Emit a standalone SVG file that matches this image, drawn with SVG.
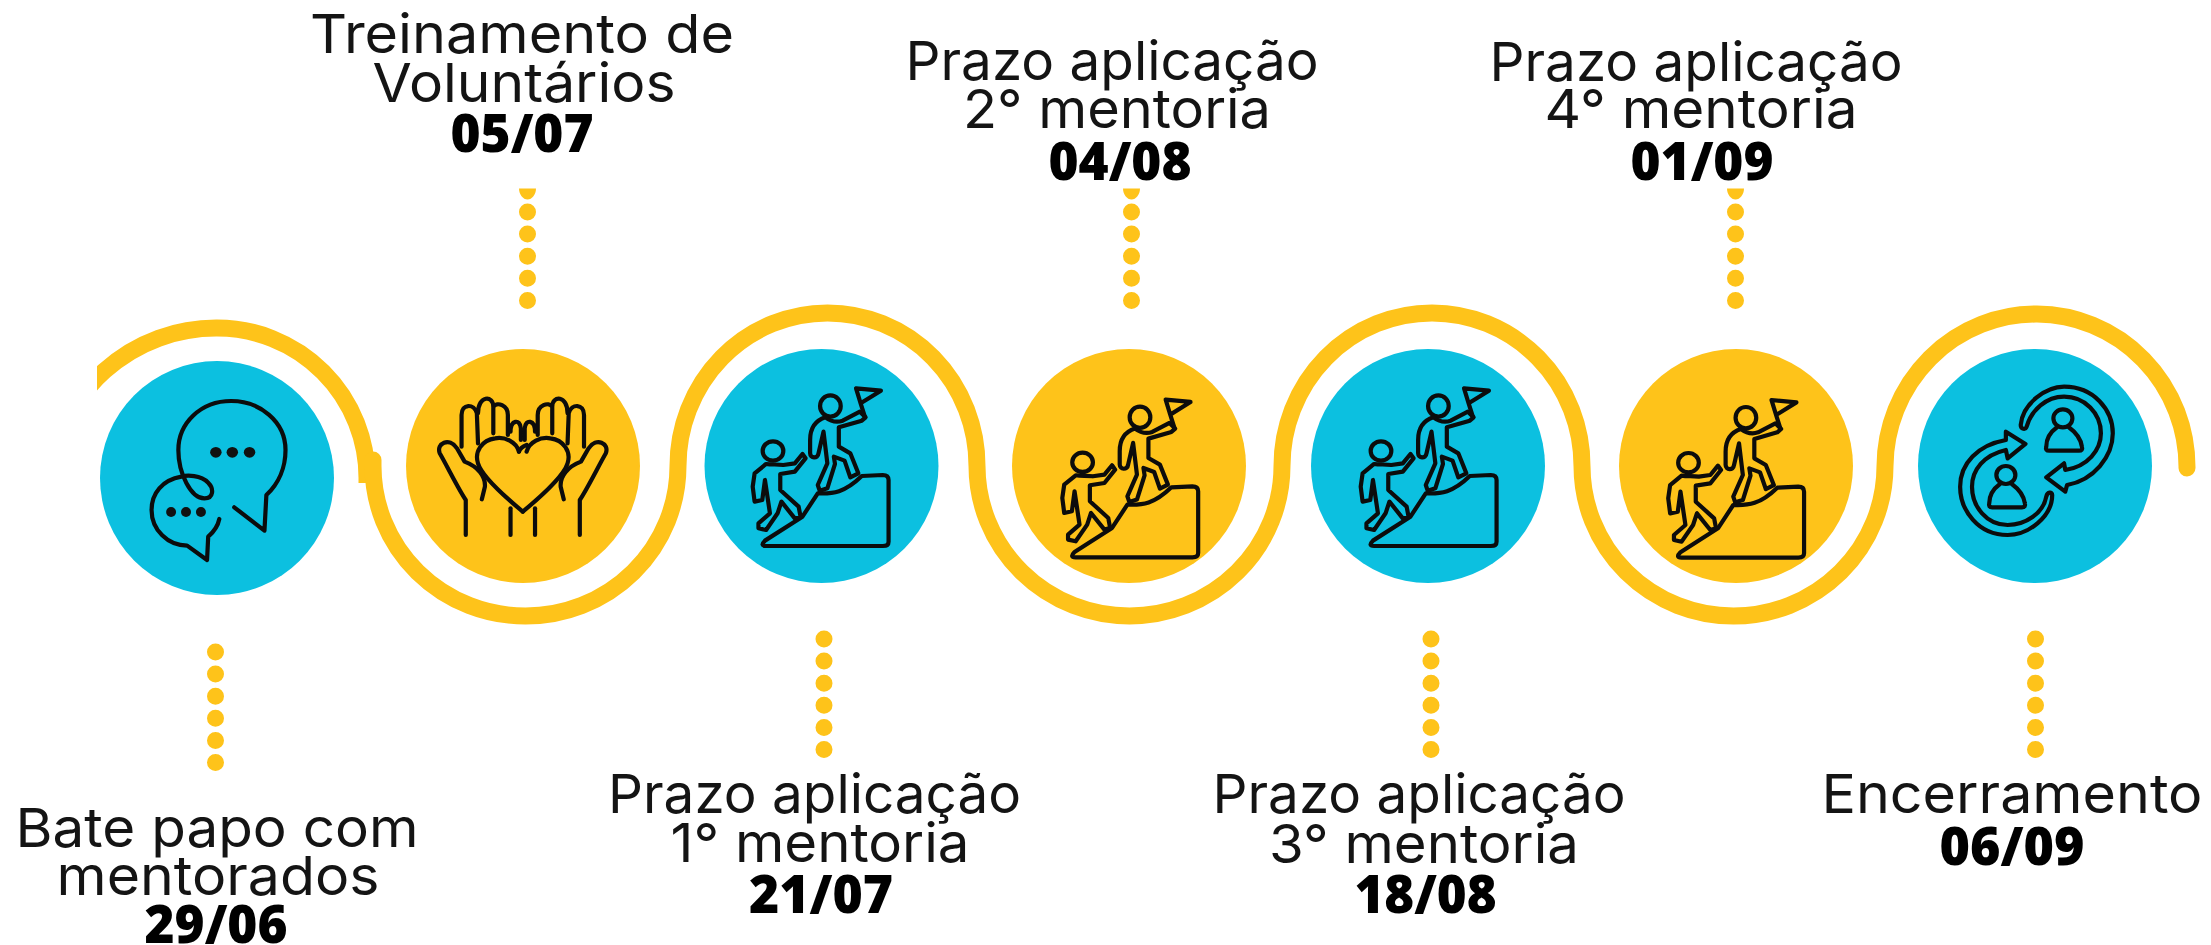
<svg xmlns="http://www.w3.org/2000/svg" width="2211" height="945" viewBox="0 0 2211 945">
<style>
.t{font-family:Inter,"Liberation Sans",sans-serif;font-size:54px;fill:#141414;text-anchor:middle}
.d{font-family:"Open Sans","Liberation Sans",sans-serif;font-weight:800;font-size:53px;fill:#000;text-anchor:middle}
.c{fill:#0cc0e0}.y{fill:#fec31a}
.w{fill:none;stroke:#fec31a;stroke-width:17}
.dots{fill:none;stroke:#fec31a;stroke-width:17;stroke-linecap:round;stroke-dasharray:0 22.1}
.i,.i *{fill:none;stroke:#0c0c0c;stroke-width:4.2;stroke-linecap:round;stroke-linejoin:round;vector-effect:non-scaling-stroke}
.i .f{fill:#111;stroke:none}
</style>
<defs>
<clipPath id="cut"><rect x="97" y="0" width="300" height="500"/></clipPath>
<g id="climb" class="i">
<path d="M222,722L320,650L360,580C400,582 430,578 475,528L530,525Q545,525 545,540L545,725Q545,738 530,738L225,738Q208,738 222,722Z"/>
<ellipse cx="393" cy="318" rx="27" ry="32"/>
<ellipse cx="243" cy="453" rx="27" ry="29"/>
<path d="M380,352C395,365 410,368 425,362L470,335L485,352L475,362L415,382L415,440L445,460L466,520L445,532L430,482L402,470L405,492L385,565L365,572L360,555L385,490L375,395L362,460C360,478 340,475 340,460L340,420C340,400 345,365 380,352Z"/>
<path d="M225,492C240,495 255,492 270,495L300,490L320,462L328,475L300,515L262,522L262,570L310,620L315,650L300,655L265,605L255,640L225,690L205,685L205,670L235,640L222,540L215,600L195,605L190,560L195,520Z"/>
<path d="M483,350L472,310L460,265L525,272L472,310"/>
</g>
<g id="hand" class="i">
<path d="M1008,705L1008,600C990,570 960,500 940,460C930,430 965,410 985,445L1005,485C1040,500 1060,530 1058,560L1050,598"/>
<path d="M997,440L997,345C997,310 1030,310 1037,340L1040,430M1040,340C1040,285 1080,285 1080,320L1080,400M1080,320C1090,305 1118,315 1118,345L1118,405M1125,395C1125,360 1150,355 1152,385L1152,420"/>
<path d="M1147,455C1140,425 1110,410 1085,415C1050,420 1030,455 1040,490C1050,530 1110,590 1157,635"/>
<path d="M1125,625L1125,705"/>
</g>
<g id="person" class="i">
<ellipse cx="1318" cy="385" rx="16" ry="27"/>
<path d="M1308,412C1298,425 1290,445 1290,470Q1288,482 1295,482L1345,482Q1352,482 1350,470C1348,445 1338,425 1328,412"/>
</g>
</defs>
<rect width="2211" height="945" fill="#fff"/>
<g id="connectors">
<path class="w" clip-path="url(#cut)" d="M50,478A167,167 0 0 1 217,328A150,150 0 0 1 367,478L367,483"/>
<path class="w" stroke-linecap="round" d="M373,460L373,466A152.500,150 0 0 0 678,466A149.500,153 0 0 1 977,466A152.500,150 0 0 0 1282,466A150,153 0 0 1 1582,466A151.500,150 0 0 0 1885,466A151,153 0 0 1 2187,468"/>
<line class="dots" x1="215.500" y1="652" x2="215.500" y2="763"/>
<line class="dots" x1="824" y1="639" x2="824" y2="750"/>
<line class="dots" x1="1431" y1="639" x2="1431" y2="750"/>
<line class="dots" x1="2035.500" y1="639" x2="2035.500" y2="750"/>
<line class="dots" x1="527.500" y1="212" x2="527.500" y2="302"/>
<line class="dots" x1="1131.500" y1="212" x2="1131.500" y2="302"/>
<line class="dots" x1="1735.500" y1="212" x2="1735.500" y2="302"/>
<path class="y" d="M519,188.500h17c0,6 -4,11 -8.500,11s-8.500,-5 -8.500,-11Z"/>
<path class="y" d="M1123,188.500h17c0,6 -4,11 -8.500,11s-8.500,-5 -8.500,-11Z"/>
<path class="y" d="M1727,188.500h17c0,6 -4,11 -8.500,11s-8.500,-5 -8.500,-11Z"/>
</g>
<g id="node-1">
<circle class="c" cx="217" cy="478" r="117"/>
<g class="i" transform="translate(80,300) scale(.3827,.3333)">
<path d="M403,622L482,692L487,585C520,550 537,500 537,450C537,365 470,303 395,303C315,303 257,370 257,450C257,520 290,595 325,595C350,595 350,565 335,548C315,525 280,525 265,530C215,540 187,580 187,630C187,690 230,737 280,737L332,780L335,710C350,695 360,680 364,657"/>
<ellipse class="f" cx="355" cy="457" rx="15" ry="16"/><ellipse class="f" cx="398" cy="457" rx="15" ry="16"/><ellipse class="f" cx="443" cy="457" rx="15" ry="16"/>
<ellipse class="f" cx="238" cy="636" rx="13" ry="15"/><ellipse class="f" cx="277" cy="636" rx="13" ry="15"/><ellipse class="f" cx="316" cy="636" rx="13" ry="15"/>
</g>
<text class="t" x="217" y="847" textLength="403" lengthAdjust="spacingAndGlyphs">Bate papo com</text>
<text class="t" x="218" y="895" textLength="323" lengthAdjust="spacingAndGlyphs">mentorados</text>
<text class="d" x="216" y="943" textLength="143" lengthAdjust="spacingAndGlyphs">29/06</text>
</g>
<g id="node-2">
<circle class="y" cx="523" cy="466" r="117"/>
<g class="i" transform="translate(80,300) scale(.3827,.3333)">
<use href="#hand"/>
<use href="#hand" transform="translate(2314,0) scale(-1,1)"/>
<path d="M1147,455C1150,445 1155,440 1167,435"/>
</g>
<text class="t" x="522" y="53" textLength="424" lengthAdjust="spacingAndGlyphs">Treinamento de</text>
<text class="t" x="524" y="102" textLength="303" lengthAdjust="spacingAndGlyphs">Voluntários</text>
<text class="d" x="522" y="152" textLength="143" lengthAdjust="spacingAndGlyphs">05/07</text>
</g>
<g id="node-3">
<circle class="c" cx="821.500" cy="466" r="117"/>
<use href="#climb" transform="translate(680,300) scale(.3827,.3333)"/>
<text class="t" x="814.500" y="813" textLength="413" lengthAdjust="spacingAndGlyphs">Prazo aplicação</text>
<text class="t" x="820" y="862" textLength="299" lengthAdjust="spacingAndGlyphs">1° mentoria</text>
<text class="d" x="821" y="913" textLength="144" lengthAdjust="spacingAndGlyphs">21/07</text>
</g>
<g id="node-4">
<circle class="y" cx="1129" cy="466" r="117"/>
<use href="#climb" transform="translate(989.600,311.300) scale(.3827,.3333)"/>
<text class="t" x="1112" y="80" textLength="413" lengthAdjust="spacingAndGlyphs">Prazo aplicação</text>
<text class="t" x="1117" y="128" textLength="308" lengthAdjust="spacingAndGlyphs">2° mentoria</text>
<text class="d" x="1120" y="180" textLength="143" lengthAdjust="spacingAndGlyphs">04/08</text>
</g>
<g id="node-5">
<circle class="c" cx="1428" cy="466" r="117"/>
<use href="#climb" transform="translate(1288,300) scale(.3827,.3333)"/>
<text class="t" x="1419" y="813" textLength="413" lengthAdjust="spacingAndGlyphs">Prazo aplicação</text>
<text class="t" x="1424" y="863" textLength="310" lengthAdjust="spacingAndGlyphs">3° mentoria</text>
<text class="d" x="1425.500" y="913" textLength="142" lengthAdjust="spacingAndGlyphs">18/08</text>
</g>
<g id="node-6">
<circle class="y" cx="1736" cy="466" r="117"/>
<use href="#climb" transform="translate(1595.500,311.700) scale(.3827,.3333)"/>
<text class="t" x="1696" y="81" textLength="413" lengthAdjust="spacingAndGlyphs">Prazo aplicação</text>
<text class="t" x="1701" y="128" textLength="313" lengthAdjust="spacingAndGlyphs">4° mentoria</text>
<text class="d" x="1702" y="180" textLength="143" lengthAdjust="spacingAndGlyphs">01/09</text>
</g>
<g id="node-7">
<circle class="c" cx="2035" cy="466" r="117"/>
<g class="i" transform="translate(1280,290) scale(.594,.3333)">
<path d="M1247,405C1250,340 1290,290 1320,290C1370,290 1402,360 1402,430C1402,500 1370,570 1325,585L1322,605L1290,562L1320,520L1322,540C1360,530 1382,480 1382,430C1382,370 1355,320 1320,320C1290,320 1265,360 1257,410C1255,420 1247,418 1247,405Z"/>
<path d="M1300,615C1300,680 1260,735 1225,735C1175,735 1145,660 1145,590C1145,520 1175,465 1222,450L1222,425L1255,462L1225,505L1222,480C1185,495 1165,540 1165,590C1165,650 1190,705 1225,705C1255,705 1285,670 1290,620C1292,605 1300,605 1300,615Z"/>
<use href="#person"/>
<use href="#person" transform="translate(-96,170)"/>
</g>
<text class="t" x="2012" y="813" textLength="381" lengthAdjust="spacingAndGlyphs">Encerramento</text>
<text class="d" x="2012" y="865" textLength="145" lengthAdjust="spacingAndGlyphs">06/09</text>
</g>
</svg>
